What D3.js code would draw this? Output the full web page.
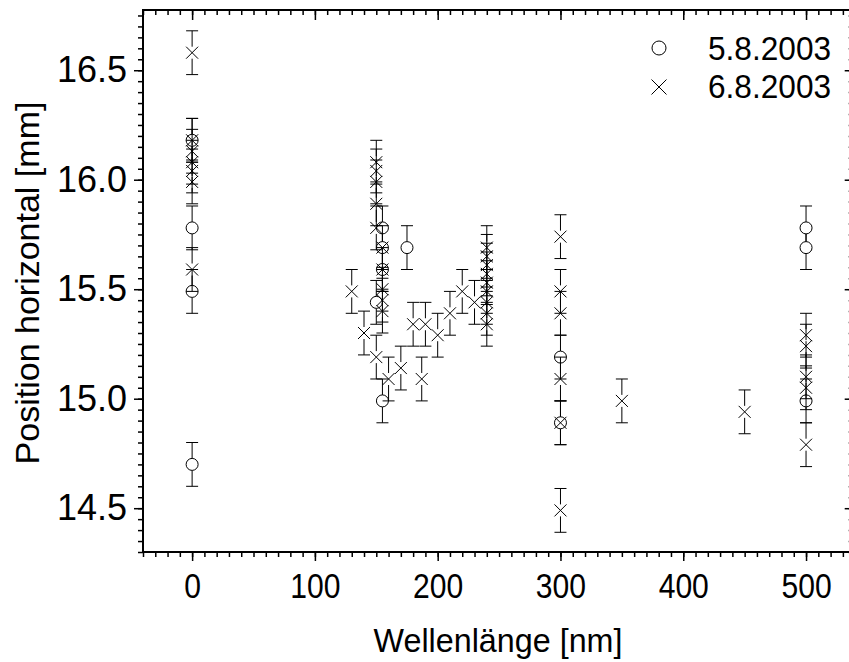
<!DOCTYPE html>
<html>
<head>
<meta charset="utf-8">
<script src="https://cdn.jsdelivr.net/npm/d3@7"></script>
<style>
  html, body { margin: 0; padding: 0; background: #fff; overflow: hidden; }
  svg { display: block; font-family: "Liberation Sans", Arial, sans-serif; }
</style>
</head>
<body>
<script>
// 5.8.2003 (circles)
const circleX = [0, 0, 0, 0, 150, 155, 155, 155, 155, 175, 300, 300, 500, 500, 500];
const circleY = [16.18, 15.78, 15.49, 14.70, 15.44, 15.78, 15.69, 15.59, 14.99, 15.69, 15.19, 14.89, 15.78, 15.69, 14.99];

// 6.8.2003 (crosses)
const crossX = [0, 0, 0, 0, 0, 0, 0,
  130, 140, 150, 150, 150, 150, 150, 150,
  155, 155, 155, 155, 155,
  160, 170, 180, 187, 190, 200, 210, 220, 230,
  240, 240, 240, 240, 240, 240, 240, 240, 240,
  300, 300, 300, 300, 300, 300,
  350, 450,
  500, 500, 500, 500, 500];
const crossY = [16.58, 16.18, 16.13, 16.08, 16.04, 15.99, 15.59,
  15.49, 15.30, 16.08, 16.04, 15.99, 15.89, 15.78, 15.19,
  15.69, 15.59, 15.50, 15.45, 15.40,
  15.09, 15.14, 15.34, 15.09, 15.34, 15.29, 15.39, 15.49, 15.44,
  15.69, 15.65, 15.61, 15.57, 15.53, 15.49, 15.44, 15.39, 15.34,
  15.74, 15.49, 15.39, 15.09, 14.89, 14.49,
  14.99, 14.94,
  15.29, 15.24, 15.10, 15.05, 14.79];

const errBar = 0.1;

const xTicks = [0, 100, 200, 300, 400, 500];
const yTicks = [14.5, 15.0, 15.5, 16.0, 16.5];
const legendLabels = ['5.8.2003', '6.8.2003'];

const W = 849, H = 662;
const plotLeft = 143, plotRight = 852.7, plotTop = 10, plotBottom = 552;

const svg = d3.select('body').append('svg')
  .attr('width', W)
  .attr('height', H);

const x = d3.scaleLinear().domain([-40, 538]).range([plotLeft, plotRight]);
const y = d3.scaleLinear().domain([14.3, 16.775]).range([plotBottom, plotTop]);

const xMinor = d3.range(-40, 538, 10);
const yMinor = d3.range(14.3, 16.776, 0.05).map(v => +v.toFixed(2));

// axes
function styleAxis(g) {
  g.select('.domain').remove();
  g.selectAll('.tick line').attr('stroke', '#000').attr('stroke-width', 1.5);
  g.selectAll('.tick text')
    .attr('fill', '#000')
    .style('font-family', '"Liberation Sans", Arial, sans-serif');
}

svg.append('g').attr('transform', `translate(0,${plotBottom})`)
  .call(d3.axisBottom(x).tickValues(xMinor).tickSize(5).tickFormat(''))
  .call(styleAxis);
svg.append('g').attr('transform', `translate(0,${plotBottom})`)
  .call(d3.axisBottom(x).tickValues(xTicks).tickSize(9).tickPadding(12).tickFormat(d3.format('d')))
  .call(styleAxis)
  .call(g => g.selectAll('.tick text')
    .style('font-size', '35px')
    .attr('transform', 'scale(0.86,1)'));

svg.append('g').attr('transform', `translate(0,${plotTop})`)
  .call(d3.axisBottom(x).tickValues(xMinor).tickSize(5).tickFormat(''))
  .call(styleAxis);
svg.append('g').attr('transform', `translate(0,${plotTop})`)
  .call(d3.axisBottom(x).tickValues(xTicks).tickSize(10).tickFormat(''))
  .call(styleAxis);

svg.append('g').attr('transform', `translate(${plotLeft},0)`)
  .call(d3.axisLeft(y).tickValues(yMinor).tickSize(5).tickFormat(''))
  .call(styleAxis);
svg.append('g').attr('transform', `translate(${plotLeft},0)`)
  .call(d3.axisLeft(y).tickValues(yTicks).tickSize(9).tickPadding(7).tickFormat(d3.format('.1f')))
  .call(styleAxis)
  .call(g => g.selectAll('.tick text').style('font-size', '36px'));

svg.append('g').attr('transform', `translate(${plotRight},0)`)
  .call(d3.axisLeft(y).tickValues(yMinor).tickSize(4).tickFormat(''))
  .call(styleAxis);
svg.append('g').attr('transform', `translate(${plotRight},0)`)
  .call(d3.axisLeft(y).tickValues(yTicks).tickSize(8).tickFormat(''))
  .call(styleAxis);

// frame
svg.append('rect')
  .attr('x', plotLeft).attr('y', plotTop)
  .attr('width', plotRight - plotLeft).attr('height', plotBottom - plotTop)
  .attr('fill', 'none').attr('stroke', '#000').attr('stroke-width', 2);

// axis titles
svg.append('text')
  .attr('transform', 'translate(498,652) scale(0.95,1)')
  .attr('text-anchor', 'middle')
  .style('font-size', '34px')
  .text('Wellenlänge [nm]');

svg.append('text')
  .attr('transform', 'translate(39,283) rotate(-90)')
  .attr('text-anchor', 'middle')
  .style('font-size', '34px')
  .text('Position horizontal [mm]');

// error bars with a gap for the marker
const r = 6, cap = 6;
function drawErrors(g, xs, ys) {
  const d = xs.map((v, i) => [v, ys[i]]);
  const e = g.selectAll('g.err').data(d).join('g').attr('class', 'err')
    .attr('stroke', '#000').attr('stroke-width', 1);
  e.append('line')
    .attr('x1', p => x(p[0])).attr('x2', p => x(p[0]))
    .attr('y1', p => y(p[1] + errBar)).attr('y2', p => y(p[1]) - r);
  e.append('line')
    .attr('x1', p => x(p[0])).attr('x2', p => x(p[0]))
    .attr('y1', p => y(p[1]) + r).attr('y2', p => y(p[1] - errBar));
  e.append('line')
    .attr('x1', p => x(p[0]) - cap).attr('x2', p => x(p[0]) + cap)
    .attr('y1', p => y(p[1] + errBar)).attr('y2', p => y(p[1] + errBar));
  e.append('line')
    .attr('x1', p => x(p[0]) - cap).attr('x2', p => x(p[0]) + cap)
    .attr('y1', p => y(p[1] - errBar)).attr('y2', p => y(p[1] - errBar));
}

function crossPath(cx, cy, s) {
  return `M${cx - s},${cy - s}L${cx + s},${cy + s}M${cx - s},${cy + s}L${cx + s},${cy - s}`;
}

const gCirc = svg.append('g');
drawErrors(gCirc, circleX, circleY);
gCirc.selectAll('circle').data(circleX).join('circle')
  .attr('cx', d => x(d))
  .attr('cy', (d, i) => y(circleY[i]))
  .attr('r', r)
  .attr('fill', '#fff').attr('stroke', '#000').attr('stroke-width', 1);

const gCross = svg.append('g');
drawErrors(gCross, crossX, crossY);
gCross.selectAll('path.cross').data(crossX).join('path')
  .attr('class', 'cross')
  .attr('d', (d, i) => crossPath(x(d), y(crossY[i]), r))
  .attr('fill', 'none').attr('stroke', '#000').attr('stroke-width', 1);

// legend
const leg = svg.append('g');
leg.append('circle').attr('cx', 659).attr('cy', 48).attr('r', 7)
  .attr('fill', 'none').attr('stroke', '#000').attr('stroke-width', 1);
leg.append('path').attr('d', crossPath(659, 87, 7.5))
  .attr('fill', 'none').attr('stroke', '#000').attr('stroke-width', 1);
leg.selectAll('text').data(legendLabels).join('text')
  .attr('transform', (d, i) => `translate(708,${60 + i * 38}) scale(0.93,1)`)
  .style('font-size', '34px')
  .text(d => d);
</script>
</body>
</html>
